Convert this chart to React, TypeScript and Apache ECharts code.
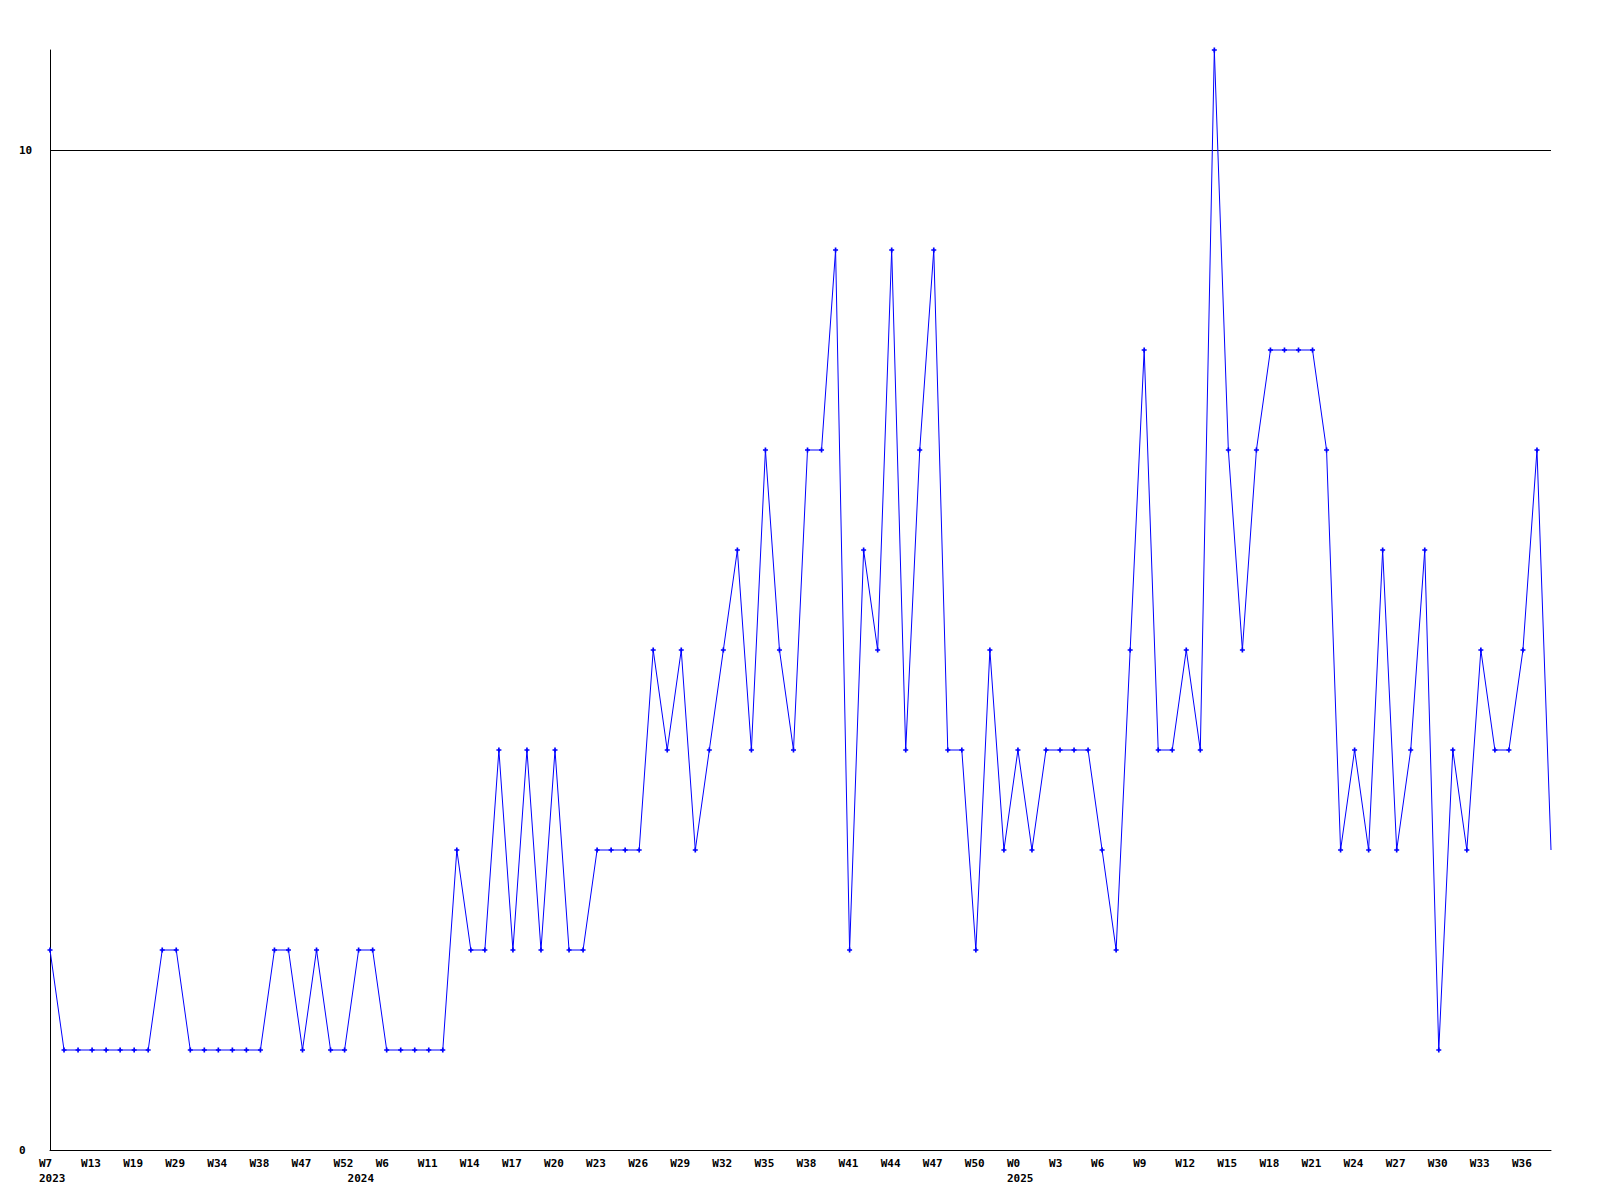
import React, { useEffect, useRef } from 'react';
import * as echarts from 'echarts';

const weeks2023 = ['W7', 'W9', 'W11', 'W13', 'W15', 'W17', 'W19', 'W22', 'W26', 'W29', 'W31', 'W33', 'W34', 'W36', 'W37', 'W38', 'W41', 'W44', 'W47', 'W49', 'W51', 'W52'];
const weeks2024 = ['W2', 'W4', 'W6', 'W8', 'W10', 'W11', 'W12', 'W13', 'W14', 'W15', 'W16', 'W17', 'W18', 'W19', 'W20', 'W21', 'W22', 'W23', 'W24', 'W25', 'W26', 'W27', 'W28', 'W29', 'W30', 'W31', 'W32', 'W33', 'W34', 'W35', 'W36', 'W37', 'W38', 'W39', 'W40', 'W41', 'W42', 'W43', 'W44', 'W45', 'W46', 'W47', 'W48', 'W49', 'W50', 'W51', 'W52'];
const weeks2025 = ['W0', 'W1', 'W2', 'W3', 'W4', 'W5', 'W6', 'W7', 'W8', 'W9', 'W10', 'W11', 'W12', 'W13', 'W14', 'W15', 'W16', 'W17', 'W18', 'W19', 'W20', 'W21', 'W22', 'W23', 'W24', 'W25', 'W26', 'W27', 'W28', 'W29', 'W30', 'W31', 'W32', 'W33', 'W34', 'W35', 'W36', 'W37', 'W38'];
const yearNames = ['2023', '2024', '2025'];

const values = [
  2, 1, 1, 1, 1, 1, 1, 1, 2, 2,
  1, 1, 1, 1, 1, 1, 2, 2, 1, 2,
  1, 1, 2, 2, 1, 1, 1, 1, 1, 3,
  2, 2, 4, 2, 4, 2, 4, 2, 2, 3,
  3, 3, 3, 5, 4, 5, 3, 4, 5, 6,
  4, 7, 5, 4, 7, 7, 9, 2, 6, 5,
  9, 4, 7, 9, 4, 4, 2, 5, 3, 4,
  3, 4, 4, 4, 4, 3, 2, 5, 8, 4,
  4, 5, 4, 11, 7, 5, 7, 8, 8, 8,
  8, 7, 3, 4, 3, 6, 3, 4, 6, 1,
  4, 3, 5, 4, 4, 5, 7, 3,
];

const yMin = 0;
const yMax = 11;
const yInterval = 10;

export default function App() {
  const ref = useRef<HTMLDivElement>(null);
  useEffect(() => {
    const chart = echarts.init(ref.current as HTMLDivElement, null, { renderer: 'svg' });
    const groups = [weeks2023, weeks2024, weeks2025];
    const cats: string[] = [];
    const weekOf: string[] = [];
    const yearStart: Record<number, string> = {};
    groups.forEach((g, gi) => {
      yearStart[cats.length] = yearNames[gi];
      g.forEach((w) => {
        cats.push(yearNames[gi] + '-' + w);
        weekOf.push(w);
      });
    });
    const font = {
      fontFamily: 'DejaVu Sans Mono',
      fontWeight: 'bold' as const,
      fontSize: 11,
      color: '#000',
    };
    const plus = 'path://M2,0H4V2H6V4H4V6H2V4H0V2H2Z';
    chart.setOption({
      animation: false,
      backgroundColor: '#fff',
      grid: [
        { left: 50, right: 49, top: 50, bottom: 50 },
        { left: 39, right: 60, top: 50, bottom: 50 },
      ],
      xAxis: [
        {
          type: 'category',
          gridIndex: 0,
          data: cats,
          boundaryGap: false,
          axisLine: { show: true, lineStyle: { color: '#000', width: 1 } },
          axisTick: { show: false },
          axisLabel: { show: false },
          splitLine: { show: false },
        },
        {
          type: 'category',
          gridIndex: 1,
          data: cats,
          boundaryGap: false,
          axisLine: { show: false },
          axisTick: { show: false },
          splitLine: { show: false },
          axisLabel: {
            ...font,
            align: 'left',
            margin: 6,
            lineHeight: 15,
            interval: (i: number) => i % 3 === 0 || yearStart[i] !== undefined,
            formatter: (_v: string, i: number) => {
              const first = i % 3 === 0 ? weekOf[i] : '';
              const yr = yearStart[i];
              return yr !== undefined ? first + '\n' + yr : first;
            },
          },
        },
      ],
      yAxis: [
        {
          type: 'value',
          gridIndex: 0,
          min: yMin,
          max: yMax,
          interval: yInterval,
          axisLine: { show: true, lineStyle: { color: '#000', width: 1 } },
          axisTick: { show: false },
          axisLabel: { ...font, align: 'left', margin: 31, showMaxLabel: false },
          splitLine: {
            show: true,
            showMinLine: false,
            showMaxLine: false,
            lineStyle: { color: '#000', width: 1 },
          },
        },
        { type: 'value', gridIndex: 1, min: yMin, max: yMax, show: false },
      ],
      series: [
        {
          type: 'line',
          xAxisIndex: 0,
          yAxisIndex: 0,
          data: values.map((v, i) => (i === values.length - 1 ? { value: v, symbol: 'none' } : v)),
          symbol: plus,
          symbolSize: 5,
          showAllSymbol: true,
          itemStyle: { color: '#0000ff' },
          lineStyle: { color: '#0000ff', width: 1 },
        },
      ],
    });
    return () => chart.dispose();
  }, []);
  return (
    <div
      ref={ref}
      style={{ position: 'absolute', left: 0, top: 0, width: 1600, height: 1200 }}
    />
  );
}
